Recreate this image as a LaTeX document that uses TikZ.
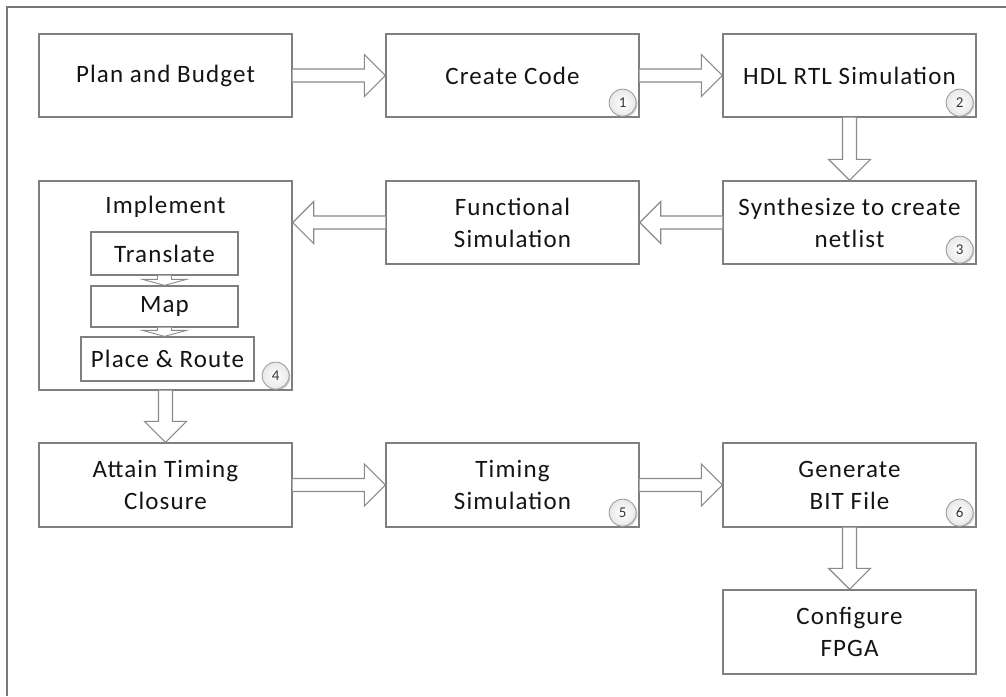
\documentclass[tikz,border=0pt]{standalone}
\usepackage{fontspec}
\setmainfont{Carlito}[LetterSpace=4.5]
\usetikzlibrary{calc,shadows}
\definecolor{boxline}{HTML}{7F7F7F}
\definecolor{arrline}{HTML}{8A8A8A}
\definecolor{txt}{HTML}{141414}
\definecolor{frameline}{HTML}{787878}
\tikzset{
  stepbox/.style={draw=boxline, line width=1.3pt, fill=white, text=txt, align=center,
    font=\fontsize{25}{32}\selectfont, inner sep=0pt},
  barrow/.style={draw=arrline, line width=1.2pt, fill=white, line join=miter},
  numcirc/.style={circle, draw=gray!75, line width=0.9pt, inner color=white, outer color=gray!18,
    minimum size=27pt, inner sep=0pt, text=txt!85, font=\fontsize{15}{15}\selectfont,
    drop shadow={shadow xshift=1.3pt, shadow yshift=-1.3pt, opacity=0.35, fill=gray}},
}
\newcommand{\rarr}[2]{\draw[barrow] let \p1=(#1.east), \p2=(#2.west) in
  (\x1,\y1+6.5pt) -- (\x2-21pt,\y1+6.5pt) -- (\x2-21pt,\y1+21pt) -- (\x2,\y1)
  -- (\x2-21pt,\y1-21pt) -- (\x2-21pt,\y1-6.5pt) -- (\x1,\y1-6.5pt);}
\newcommand{\larr}[2]{\draw[barrow] let \p1=(#1.west), \p2=(#2.east) in
  (\x1,\y1+6.5pt) -- (\x2+21pt,\y1+6.5pt) -- (\x2+21pt,\y1+21pt) -- (\x2,\y1)
  -- (\x2+21pt,\y1-21pt) -- (\x2+21pt,\y1-6.5pt) -- (\x1,\y1-6.5pt);}
\newcommand{\darr}[2]{\draw[barrow] let \p1=(#1.south), \p2=(#2.north) in
  (\x1-7pt,\y1) -- (\x1-7pt,\y2+21pt) -- (\x1-21pt,\y2+21pt) -- (\x1,\y2)
  -- (\x1+21pt,\y2+21pt) -- (\x1+7pt,\y2+21pt) -- (\x1+7pt,\y1);}
\newcommand{\sdarr}[2]{\draw[barrow, line width=0.9pt] let \p1=(#1.south), \p2=(#2.north) in
  (\x1-7pt,\y1) -- (\x1-7pt,\y2+6pt) -- (\x1-22pt,\y2+6pt) -- (\x1,\y2)
  -- (\x1+22pt,\y2+6pt) -- (\x1+7pt,\y2+6pt) -- (\x1+7pt,\y1);}
\begin{document}
\begin{tikzpicture}[x=1pt,y=-1pt]
\useasboundingbox (0,0) rectangle (1006,696);
\fill[white] (0,0) rectangle (1006,696);
% frame (cropped)
\draw[frameline, line width=2pt] (7,696) -- (7,7) -- (1006,7);

% row 1
\node[stepbox, minimum width=253pt, minimum height=83pt] (plan) at (165.5,75.5) {Plan and Budget};
\node[stepbox, minimum width=253pt, minimum height=83pt] (code) at (512.5,75.5) {Create Code};
\node[stepbox, minimum width=253pt, minimum height=83pt] (hdl) at (849.5,75.5) {HDL RTL Simulation};
% row 2
\node[stepbox, minimum width=253pt, minimum height=209pt] (impl) at (165.5,285.5) {};
\node[text=txt, font=\fontsize{25}{32}\selectfont, anchor=base, inner sep=0pt] (impllbl) at (165.5,213) {Implement};
\node[stepbox, minimum width=147pt, minimum height=43pt] (trans) at (164.5,253.5) {Translate};
\node[stepbox, minimum width=147pt, minimum height=41pt] (map) at (164.5,306.5) {Map};
\node[stepbox, minimum width=173pt, minimum height=44pt] (pr) at (167.5,359) {Place \& Route};
\node[stepbox, minimum width=253pt, minimum height=83pt] (func) at (512.5,222.5) {Functional\\Simulation};
\node[stepbox, minimum width=253pt, minimum height=83pt] (synth) at (849.5,222.5) {Synthesize to create\\netlist};
% row 3
\node[stepbox, minimum width=253pt, minimum height=84pt] (attain) at (165.5,485) {Attain Timing\\Closure};
\node[stepbox, minimum width=253pt, minimum height=84pt] (tsim) at (512.5,485) {Timing\\Simulation};
\node[stepbox, minimum width=253pt, minimum height=84pt] (bit) at (849.5,485) {Generate\\BIT File};
\node[stepbox, minimum width=253pt, minimum height=84pt] (fpga) at (849.5,632) {Configure\\FPGA};

% arrows
\rarr{plan}{code}
\rarr{code}{hdl}
\darr{hdl}{synth}
\larr{synth}{func}
\larr{func}{impl}
\darr{impl}{attain}
\rarr{attain}{tsim}
\rarr{tsim}{bit}
\darr{bit}{fpga}
\sdarr{trans}{map}
\sdarr{map}{pr}

% numbered circles
\node[numcirc] (n1) at ($(code.south east)+(-17,-15)$) {1};
\node[numcirc] (n2) at ($(hdl.south east)+(-17,-15)$) {2};
\node[numcirc] (n3) at ($(synth.south east)+(-17,-15)$) {3};
\node[numcirc] (n4) at ($(impl.south east)+(-17,-15)$) {4};
\node[numcirc] (n5) at ($(tsim.south east)+(-17,-15)$) {5};
\node[numcirc] (n6) at ($(bit.south east)+(-17,-15)$) {6};
\end{tikzpicture}
\end{document}
